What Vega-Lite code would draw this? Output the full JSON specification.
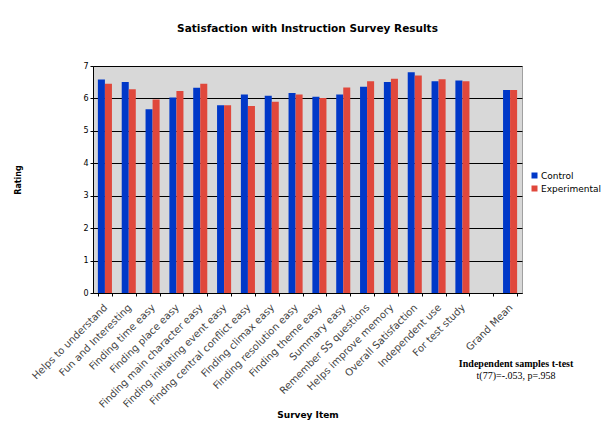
{
  "$schema": "https://vega.github.io/schema/vega-lite/v6.json",
  "width": 429,
  "height": 227,
  "autosize": {"type": "none"},
  "padding": {"left": 93, "top": 66, "right": 80, "bottom": 153},
  "background": "white",
  "title": {
    "text": "Satisfaction with Instruction Survey Results",
    "font": "DejaVu Sans",
    "fontSize": 10.5,
    "fontWeight": "bold",
    "color": "#000000",
    "anchor": "middle",
    "offset": 28
  },
  "config": {
    "view": {"fill": "#d8d8d8", "stroke": "#a0a0a0", "strokeWidth": 1}
  },
  "datasets": {
    "bars": [
      {"item": "Helps to understand", "group": "Control", "rating": 6.58},
      {"item": "Helps to understand", "group": "Experimental", "rating": 6.45},
      {"item": "Fun and Interesting", "group": "Control", "rating": 6.51},
      {"item": "Fun and Interesting", "group": "Experimental", "rating": 6.28},
      {"item": "Finding time easy", "group": "Control", "rating": 5.67},
      {"item": "Finding time easy", "group": "Experimental", "rating": 5.97},
      {"item": "Finding place easy", "group": "Control", "rating": 6.03},
      {"item": "Finding place easy", "group": "Experimental", "rating": 6.23},
      {"item": "Finding main character easy", "group": "Control", "rating": 6.33},
      {"item": "Finding main character easy", "group": "Experimental", "rating": 6.45},
      {"item": "Finding initiating event easy", "group": "Control", "rating": 5.79},
      {"item": "Finding initiating event easy", "group": "Experimental", "rating": 5.79},
      {"item": "Findng central conflict easy", "group": "Control", "rating": 6.12},
      {"item": "Findng central conflict easy", "group": "Experimental", "rating": 5.77},
      {"item": "Finding climax easy", "group": "Control", "rating": 6.08},
      {"item": "Finding climax easy", "group": "Experimental", "rating": 5.9},
      {"item": "Finding resolution easy", "group": "Control", "rating": 6.17},
      {"item": "Finding resolution easy", "group": "Experimental", "rating": 6.12},
      {"item": "Finding theme easy", "group": "Control", "rating": 6.05},
      {"item": "Finding theme easy", "group": "Experimental", "rating": 6.01},
      {"item": "Summary easy", "group": "Control", "rating": 6.12},
      {"item": "Summary easy", "group": "Experimental", "rating": 6.34},
      {"item": "Remember SS questions", "group": "Control", "rating": 6.36},
      {"item": "Remember SS questions", "group": "Experimental", "rating": 6.53},
      {"item": "Helps improve memory", "group": "Control", "rating": 6.51},
      {"item": "Helps improve memory", "group": "Experimental", "rating": 6.61},
      {"item": "Overall Satisfaction", "group": "Control", "rating": 6.81},
      {"item": "Overall Satisfaction", "group": "Experimental", "rating": 6.71},
      {"item": "Independent use", "group": "Control", "rating": 6.53},
      {"item": "Independent use", "group": "Experimental", "rating": 6.59},
      {"item": "For test study", "group": "Control", "rating": 6.55},
      {"item": "For test study", "group": "Experimental", "rating": 6.53},
      {"item": "Grand Mean", "group": "Control", "rating": 6.26},
      {"item": "Grand Mean", "group": "Experimental", "rating": 6.26}
    ],
    "headline": [
      {"item": "Grand Mean", "rating": -2.18, "label": "Independent samples t-test"}
    ],
    "stats": [
      {"item": "Grand Mean", "rating": -2.55, "label": "t(77)=-.053, p=.958"}
    ]
  },
  "encoding": {
    "x": {
      "field": "item",
      "type": "nominal",
      "sort": null,
      "scale": {
        "domain": ["Helps to understand", "Fun and Interesting", "Finding time easy", "Finding place easy", "Finding main character easy", "Finding initiating event easy", "Findng central conflict easy", "Finding climax easy", "Finding resolution easy", "Finding theme easy", "Summary easy", "Remember SS questions", "Helps improve memory", "Overall Satisfaction", "Independent use", "For test study", " ", "Grand Mean"],
        "paddingInner": 0.41,
        "paddingOuter": 0.205
      },
      "axis": {
        "title": "Survey Item",
        "titleFont": "DejaVu Sans",
        "titleFontSize": 9,
        "titleFontWeight": "bold",
        "titleColor": "#000000",
        "titlePadding": 1,
        "labelAngle": -45,
        "labelFont": "DejaVu Sans",
        "labelFontSize": 10,
        "labelColor": "#444444",
        "labelPadding": 6,
        "labelOffset": -3,
        "labelOverlap": false,
        "tickBand": "extent",
        "tickColor": "#000000",
        "tickSize": 3,
        "domainColor": "#000000",
        "grid": false
      }
    },
    "y": {
      "field": "rating",
      "type": "quantitative",
      "scale": {"domain": [0, 7], "nice": false, "zero": true},
      "axis": {
        "title": "Rating",
        "titleFont": "DejaVu Sans",
        "titleFontSize": 8,
        "titleFontWeight": "bold",
        "titleColor": "#000000",
        "titlePadding": 60,
        "tickCount": 7,
        "labelOverlap": false,
        "labelFont": "DejaVu Sans",
        "labelFontSize": 8,
        "labelColor": "#000000",
        "tickColor": "#000000",
        "tickSize": 3,
        "domainColor": "#000000",
        "grid": true,
        "gridColor": "#000000",
        "gridWidth": 1,
        "gridOpacity": 1
      }
    }
  },
  "layer": [
    {
      "data": {"name": "bars"},
      "mark": {"type": "bar"},
      "encoding": {
        "xOffset": {"field": "group", "type": "nominal", "scale": {"paddingInner": 0}},
        "color": {
          "field": "group",
          "type": "nominal",
          "scale": {"domain": ["Control", "Experimental"], "range": ["#0038c8", "#e0483c"]},
          "legend": {
            "title": null,
            "orient": "none",
            "legendX": 437,
            "legendY": 105,
            "symbolType": "square",
            "symbolSize": 36,
            "symbolStrokeWidth": 0,
            "labelFont": "DejaVu Sans",
            "labelFontSize": 9,
            "labelColor": "#000000",
            "rowPadding": 3,
            "labelOffset": 2
          }
        }
      }
    },
    {
      "data": {"name": "headline"},
      "mark": {"type": "text", "font": "Liberation Serif", "fontSize": 10, "fontWeight": "bold", "baseline": "middle", "align": "center", "dx": 6, "clip": false, "color": "#000000"},
      "encoding": {
        "text": {"field": "label"}
      }
    },
    {
      "data": {"name": "stats"},
      "mark": {"type": "text", "font": "Liberation Serif", "fontSize": 10, "baseline": "middle", "align": "center", "dx": 6, "clip": false, "color": "#000000"},
      "encoding": {
        "text": {"field": "label"}
      }
    }
  ]
}
